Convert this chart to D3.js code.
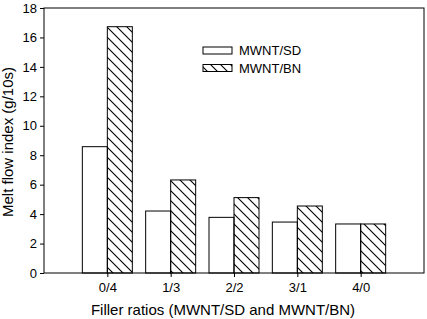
<!DOCTYPE html>
<html>
<head>
<meta charset="utf-8">
<script src="https://cdn.jsdelivr.net/npm/d3@7"></script>
<style>
  body { margin: 0; background: #fff; }
  svg { display: block; font-family: "Liberation Sans", Arial, sans-serif; }
</style>
</head>
<body>
<div id="chart"></div>
<script>
// data
const ratios = ["0/4", "1/3", "2/2", "3/1", "4/0"]
const mwntSD = [8.58, 4.21, 3.78, 3.46, 3.33]
const mwntBN = [16.73, 6.32, 5.12, 4.55, 3.33]
const seriesNames = ["MWNT/SD", "MWNT/BN"]
const yTicks = [0, 2, 4, 6, 8, 10, 12, 14, 16, 18]

const width = 427, height = 319
const margin = {top: 8, right: 3, bottom: 46, left: 44}
const barW = 25

const svg = d3.select("#chart").append("svg")
    .attr("width", width)
    .attr("height", height)

// hatch pattern ("\" lines)
svg.append("defs").append("pattern")
    .attr("id", "hatch")
    .attr("patternUnits", "userSpaceOnUse")
    .attr("width", 10)
    .attr("height", 10)
  .append("path")
    .attr("d", "M0,0L10,10M-5,5L5,15M5,-5L15,5")
    .attr("stroke", "#000")
    .attr("stroke-width", 1.1)

const x = d3.scaleLinear()
    .domain([0, ratios.length + 1])
    .range([margin.left, width - margin.right])

const y = d3.scaleLinear()
    .domain([0, 18])
    .range([height - margin.bottom, margin.top])

const data = ratios.map((r, i) => ({ratio: r, i: i + 1, sd: mwntSD[i], bn: mwntBN[i]}))

// bars
const g = svg.append("g")
g.selectAll(".sd").data(data).join("rect")
    .attr("x", d => x(d.i) - barW)
    .attr("y", d => y(d.sd))
    .attr("width", barW)
    .attr("height", d => y(0) - y(d.sd))
    .attr("fill", "#fff")
    .attr("stroke", "#000")
    .attr("stroke-width", 1)

g.selectAll(".bn").data(data).join("rect")
    .attr("x", d => x(d.i))
    .attr("y", d => y(d.bn))
    .attr("width", barW)
    .attr("height", d => y(0) - y(d.bn))
    .attr("fill", "url(#hatch)")
    .attr("stroke", "#000")
    .attr("stroke-width", 1)

// frame
svg.append("rect")
    .attr("x", margin.left)
    .attr("y", margin.top)
    .attr("width", width - margin.left - margin.right)
    .attr("height", height - margin.top - margin.bottom)
    .attr("fill", "none")
    .attr("stroke", "#000")
    .attr("stroke-width", 1)

// axes
svg.append("g")
    .attr("transform", `translate(${margin.left},0)`)
    .call(d3.axisLeft(y).tickValues(yTicks).tickSize(4).tickPadding(3).tickSizeOuter(0))
    .call(g => g.select(".domain").remove())
    .call(g => g.selectAll("text").attr("font-size", 13).attr("font-family", null).attr("fill", "#000"))

svg.append("g")
    .attr("transform", `translate(0,${y(0)})`)
    .call(d3.axisBottom(x).tickValues(data.map(d => d.i)).tickFormat((d, i) => ratios[i])
        .tickSize(4).tickPadding(6).tickSizeOuter(0))
    .call(g => g.select(".domain").remove())
    .call(g => g.selectAll("text").attr("font-size", 13).attr("font-family", null).attr("fill", "#000"))

// axis titles
svg.append("text")
    .attr("x", 223)
    .attr("y", 315)
    .attr("text-anchor", "middle")
    .attr("font-size", 15)
    .text("Filler ratios (MWNT/SD and MWNT/BN)")

svg.append("text")
    .attr("transform", `translate(13,142) rotate(-90)`)
    .attr("text-anchor", "middle")
    .attr("font-size", 15)
    .text("Melt flow index (g/10s)")

// legend
const legend = svg.append("g").attr("transform", "translate(203,47)")
seriesNames.forEach((name, i) => {
    legend.append("rect")
        .attr("x", 0)
        .attr("y", i * 17.5)
        .attr("width", 29)
        .attr("height", 7)
        .attr("fill", i ? "url(#hatch)" : "#fff")
        .attr("stroke", "#000")
    legend.append("text")
        .attr("x", 36)
        .attr("y", i * 17.5 + 8)
        .attr("font-size", 13)
        .text(name)
})
</script>
</body>
</html>
